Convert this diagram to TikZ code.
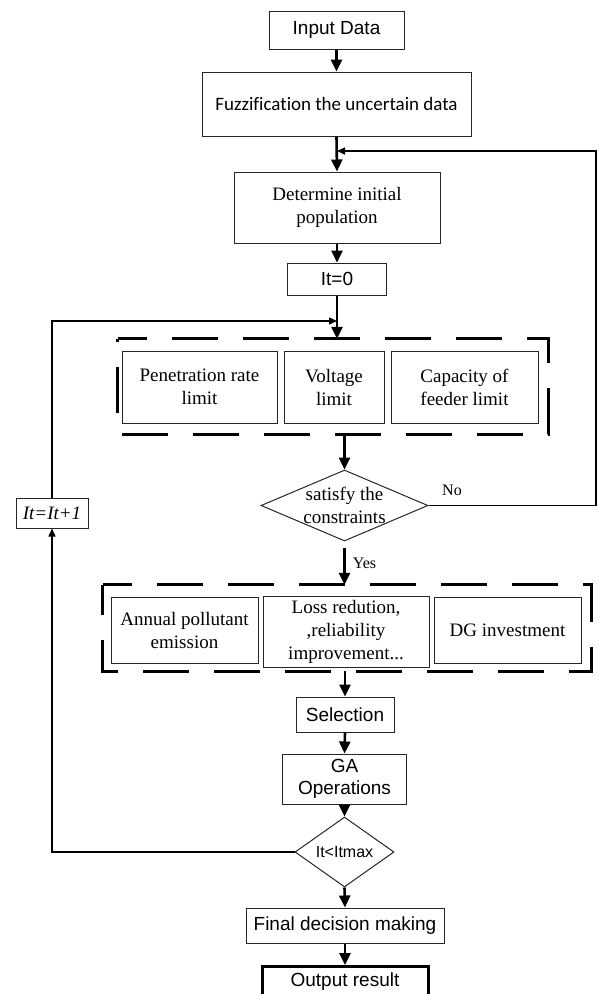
\documentclass[tikz,border=0pt]{standalone}
\usepackage{fontspec}
\setmainfont{Liberation Serif}
\setsansfont{Liberation Sans}
\newfontfamily\calib[Ligatures=NoCommon]{Carlito}
\usetikzlibrary{arrows.meta,shapes.geometric}
\begin{document}
\begin{tikzpicture}[x=1pt,y=-1pt,
  box/.style={draw=black!85, line width=1pt, inner sep=0pt, align=center,
    font=\rmfamily\fontsize{19pt}{23pt}\selectfont},
  sbox/.style={box, font=\sffamily\fontsize{19pt}{22pt}\selectfont},
  dia/.style={draw=black!85, line width=1pt, shape=diamond, inner sep=0pt, align=center},
  mainarrow/.style={line width=2.6pt, -{Triangle[length=12pt,width=11pt]}},
  thinarrow/.style={line width=1.3pt, -{Triangle[length=8pt,width=7pt]}},
  framebox/.style={draw=none, inner sep=0pt},
  dashline/.style={line width=3pt, dash pattern=on 46pt off 25pt, dash phase=17pt},
  lab/.style={font=\rmfamily\fontsize{16pt}{19pt}\selectfont, inner sep=0pt}
]
\useasboundingbox (0,0) rectangle (598,994);

% top chain
\node[sbox, minimum width=135pt, minimum height=38pt] (in) at (336.5,30) {Input Data};
\node[box, font=\calib\fontsize{19pt}{23pt}\selectfont, minimum width=269pt, minimum height=64pt] (fuz) at (336.5,104) {Fuzzification the uncertain data};
\node[box, minimum width=206pt, minimum height=71pt] (det) at (337,207.5) {Determine initial\\population};
\node[sbox, minimum width=99pt, minimum height=32pt] (it0) at (337,279) {It=0};

% constraint group
\node[framebox, minimum width=430pt, minimum height=95pt] (d1) at (333,386.5) {};
\draw[dashline] (d1.north west) -- (d1.north east) -- (d1.south east) -- (d1.south west) -- cycle;
\node[box, minimum width=155pt, minimum height=72pt] (pen) at (199.5,387) {Penetration rate\\limit};
\node[box, minimum width=100pt, minimum height=72pt] (vol) at (334,387) {Voltage\\limit};
\node[box, minimum width=147pt, minimum height=72pt] (cap) at (464.5,387) {Capacity of\\feeder limit};

% decision 1
\node[dia, minimum width=167pt, minimum height=71pt,
  font=\rmfamily\fontsize{19pt}{23pt}\selectfont] (sat) at (344.5,505.5)
  {\makebox[0pt]{satisfy the}\\\makebox[0pt]{constraints}};
\node[lab] (no) at (452,490) {No};
\node[lab] (yes) at (364.5,563) {Yes};

% objective group
\node[framebox, minimum width=488pt, minimum height=86pt] (d2) at (347,628) {};
\draw[dashline] (d2.north west) -- (d2.north east) -- (d2.south east) -- (d2.south west) -- cycle;
\node[box, minimum width=147pt, minimum height=66pt] (ann) at (184.5,630) {Annual pollutant\\emission};
\node[box, minimum width=166pt, minimum height=71pt] (loss) at (346,631.5) {Loss redution,\\,reliability\\improvement...};
\node[box, minimum width=147pt, minimum height=66pt] (dg) at (507.5,630) {DG investment};

% lower chain
\node[sbox, minimum width=98pt, minimum height=35pt] (sel) at (345,714.5) {Selection};
\node[sbox, minimum width=124pt, minimum height=50pt] (ga) at (344.5,779) {GA\\Operations};
\node[dia, minimum width=99pt, minimum height=70pt,
  font=\sffamily\fontsize{16pt}{19pt}\selectfont] (itmax) at (344.5,852) {\makebox[0pt]{It<Itmax}};
\node[sbox, minimum width=198pt, minimum height=35pt] (fin) at (345,925.5) {Final decision making};
\node[sbox, line width=3pt, draw=black, minimum width=166pt, inner ysep=6.5pt, text depth=18pt, anchor=north] (out) at (345,965) {Output result};

% counter box
\node[box, minimum width=72pt, minimum height=30pt, font=\rmfamily\itshape\fontsize{19pt}{23pt}\selectfont] (inc) at (52,513) {It=It+1};

% main arrows
\draw[mainarrow] (in.south) -- (fuz.north);
\draw[mainarrow] (fuz.south) -- (det.north);
\draw[mainarrow] (det.south) -- (it0.north);
\draw[mainarrow] (it0.south) -- (it0.south |- d1.north);
\draw[mainarrow] (sat.north |- d1.south) -- (sat.north);
\draw[mainarrow, shorten <=6pt] (sat.south) -- (sat.south |- d2.north);
\draw[mainarrow] (sel.north |- d2.south) -- (sel.north);
\draw[mainarrow] (sel.south) -- (ga.north);
\draw[mainarrow] (ga.south) -- (itmax.north);
\draw[mainarrow] (itmax.south) -- (fin.north);
\draw[mainarrow] (fin.south) -- (out.north);

% feedback loops
\coordinate (j1) at (337,151);
\coordinate (rc) at (596,151);
\draw[thinarrow] (sat.east) -| (rc) -- (j1);
\coordinate (j2) at (337,321);
\draw[thinarrow] (itmax.west) -| (inc.south);
\draw[thinarrow] (inc.north) |- (j2);
\end{tikzpicture}
\end{document}
